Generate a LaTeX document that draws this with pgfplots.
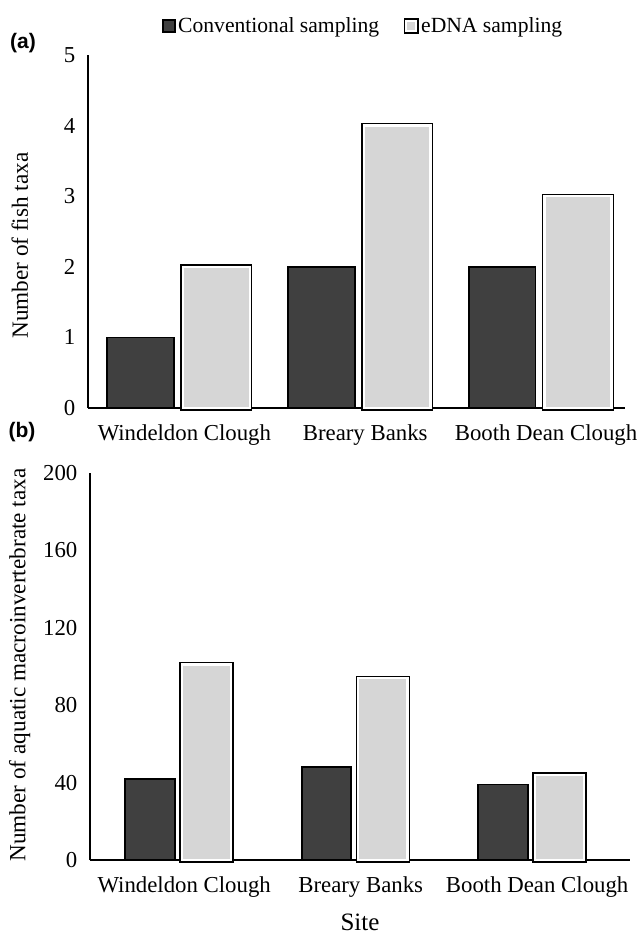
\documentclass[border=0pt]{standalone}
\usepackage{pgfplots}
\pgfplotsset{compat=1.18}
\usepackage{fontspec}
\setmainfont{Liberation Serif}
\newfontfamily\labfont{Liberation Sans}
\definecolor{conv}{HTML}{404040}
\definecolor{edna}{HTML}{D6D6D6}
\newcommand{\fs}{\fontsize{11.4}{13}\selectfont}
\newcommand{\fl}{\fontsize{11.6}{13}\selectfont}
\pgfplotsset{
  panel/.style={
    scale only axis,
    axis lines=left,
    axis line style={-, line width=0.75pt, black},
    enlargelimits=false,
    clip=false,
    major tick length=0pt,
    xtick={0,1,2},
    xticklabels={Windeldon Clough, Breary Banks, Booth Dean Clough},
    xticklabel style={anchor=center, yshift=-13.5pt, xshift=3pt, font=\fs},
    yticklabel style={font=\fs, xshift=-2.8pt},
    ylabel style={anchor=center, font=\fl},
    xlabel style={anchor=center, font=\fontsize{12.5}{14}\selectfont},
    /pgf/number format/assume math mode=true,
  },
  convleg/.style={legend image code/.code={\draw[##1] (0pt,-2.9pt) rectangle (5.8pt,2.9pt);}},
  ednaleg/.style={legend image code/.code={\draw[##1] (0pt,-2.5pt) rectangle (5pt,2.5pt);}},
}
\begin{document}
\begin{tikzpicture}
\useasboundingbox (0,0) rectangle (321.5pt,-466.5pt);
% Panel (a)
\begin{axis}[panel,
  at={(44pt,-204pt)}, anchor=south west,
  width=268.5pt, height=176.5pt,
  xmin=-0.5, xmax=2.47, ymin=0, ymax=5,
  ytick={0,1,2,3,4,5},
  ylabel={Number of fish taxa},
  ylabel style={at={(axis description cs:-0.127,0.46)}},
  legend style={draw=none, fill=none, at={(0.513,1.082)}, anchor=center,
    font=\fontsize{10.8}{12}\selectfont, legend columns=2,
    /tikz/every even column/.append style={column sep=11pt},
    nodes={inner xsep=1.2pt}},
]
\addplot[ybar, bar width=0.37, bar shift=-0.21, fill=conv, draw=black, line width=0.9pt, convleg]
  coordinates {(0,1) (1,2) (2,2)};
\addlegendentry{Conventional sampling}
\addplot[ybar, bar width=0.37, bar shift=0.21, fill=edna, draw=white, line width=1.2pt,
  preaction={draw=black, line width=2.6pt}, ednaleg]
  coordinates {(0,2) (1,4) (2,3)};
\addlegendentry{eDNA sampling}
\node[font=\labfont\bfseries\fontsize{10.5}{12}\selectfont] at (axis description cs:-0.121,1.035) {(a)};
\end{axis}
% Panel (b)
\begin{axis}[panel,
  at={(45pt,-430pt)}, anchor=south west,
  width=270pt, height=193.5pt,
  xmin=-0.5, xmax=2.56, ymin=0, ymax=200,
  ytick={0,40,80,120,160,200},
  ylabel={Number of aquatic macroinvertebrate taxa},
  ylabel style={at={(axis description cs:-0.13,0.504)}},
  xlabel={Site},
  xlabel style={at={(axis description cs:0.5,0)}, yshift=-31pt},
]
\addplot[ybar, bar width=0.28, bar shift=-0.16, fill=conv, draw=black, line width=0.9pt]
  coordinates {(0,42) (1,48) (2,39)};
\addplot[ybar, bar width=0.28, bar shift=0.16, fill=edna, draw=white, line width=1.2pt,
  preaction={draw=black, line width=2.6pt}]
  coordinates {(0,101) (1,94) (2,44)};
\node[font=\labfont\bfseries\fontsize{10.5}{12}\selectfont] at (axis description cs:-0.126,1.106) {(b)};
\end{axis}
\end{tikzpicture}
\end{document}
